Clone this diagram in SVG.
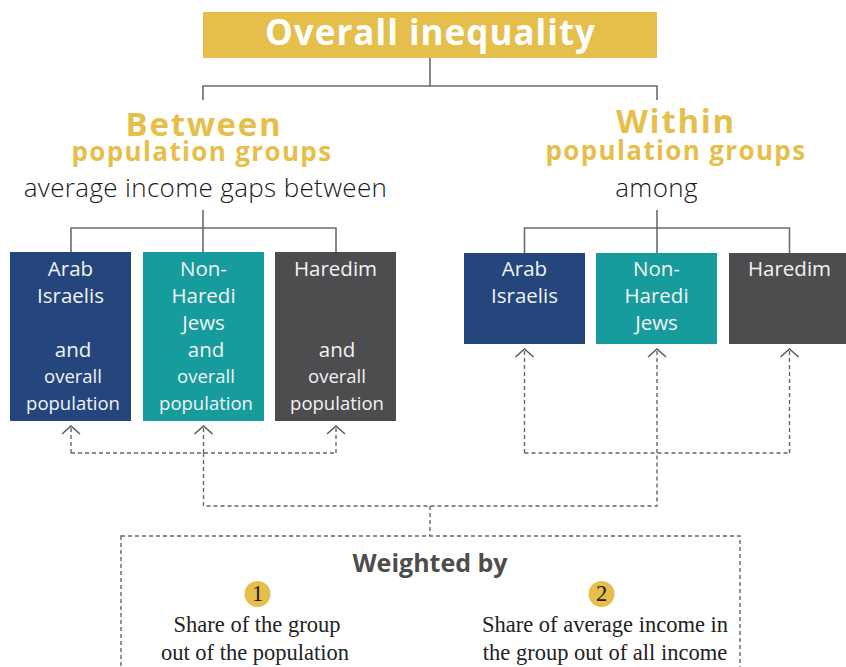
<svg xmlns="http://www.w3.org/2000/svg" width="846" height="667" viewBox="0 0 846 667">
  <style>
    .tree { fill: none; stroke: #6b6b6b; stroke-width: 1.6; }
    .dash { fill: none; stroke: #666; stroke-width: 1.4; stroke-dasharray: 4 3; }
    .head { font-family: "Open Sans", "Liberation Sans", sans-serif; font-weight: 700; fill: #e6bf4b; text-anchor: middle; }
    .big { font-size: 33px; letter-spacing: 1.7px; }
    .grp { font-size: 26px; letter-spacing: 1.35px; }
    .sub { font-family: "Open Sans", "Liberation Sans", sans-serif; font-weight: 300; fill: #1a1a1a; text-anchor: middle; font-size: 26px; letter-spacing: 0.35px; }
    .lbl { font-family: "Open Sans", "Liberation Sans", sans-serif; fill: #f2f2f2; text-anchor: middle; font-size: 20.5px; }
    .sm { font-size: 18.5px; }
    .serif { font-family: "Liberation Serif", "Times New Roman", serif; fill: #222; text-anchor: middle; font-size: 22.5px; }
    .navy { fill: #24467d; }
    .teal { fill: #169c9d; }
    .grey { fill: #4d4d4f; }
  </style>
  <defs>
    <marker id="chev" viewBox="-10 -10 20 20" markerWidth="20" markerHeight="20" refX="0" refY="0" markerUnits="userSpaceOnUse" orient="auto">
      <path d="M-8,-9 L0,0 L-8,9" fill="none" stroke="#555" stroke-width="1.4" stroke-dasharray="none"/>
    </marker>
  </defs>

  <!-- solid tree lines -->
  <g id="connectors">
    <path class="tree" d="M430,58 V86 M203,100 V86 H657 V100"/>
    <path class="tree" d="M203,210 V252 M71,252 V228 H336 V252"/>
    <path class="tree" d="M657,210 V253 M524.5,253 V228 H789.5 V253"/>
    <!-- dashed weighting links -->
    <path class="dash" d="M71,453 H336"/>
    <path class="dash" d="M71,453 V426" marker-end="url(#chev)"/>
    <path class="dash" d="M203.5,453 V426" marker-end="url(#chev)"/>
    <path class="dash" d="M336,453 V426" marker-end="url(#chev)"/>
    <path class="dash" d="M524.5,453 H789.5"/>
    <path class="dash" d="M524.5,453 V349" marker-end="url(#chev)"/>
    <path class="dash" d="M657,453 V349" marker-end="url(#chev)"/>
    <path class="dash" d="M789.5,453 V349" marker-end="url(#chev)"/>
    <path class="dash" d="M203.5,453 V506 H657 V453 M430,506 V536"/>
  </g>

  <g id="overall">
    <rect x="203" y="12" width="454" height="46" fill="#e5be4c"/>
    <text x="430.5" y="45" class="head" font-size="35" letter-spacing="1" style="fill:#fff">Overall inequality</text>
  </g>

  <g id="between">
    <text x="204" y="136" class="head big">Between</text>
    <text x="202" y="161" class="head grp">population groups</text>
    <text x="205.5" y="197" class="sub">average income gaps between</text>
  </g>

  <g id="within">
    <text x="676" y="133" class="head big">Within</text>
    <text x="676" y="160" class="head grp">population groups</text>
    <text x="656.5" y="197" class="sub">among</text>
  </g>

  <g id="between-arab">
    <rect x="10" y="252" width="121" height="169" class="navy"/>
    <text class="lbl" x="70.5" y="276">Arab</text>
    <text class="lbl" x="70.5" y="303">Israelis</text>
    <text class="lbl" x="73" y="357">and</text>
    <text class="lbl sm" x="73" y="383">overall</text>
    <text class="lbl sm" x="73" y="410">population</text>
  </g>
  <g id="between-nonharedi">
    <rect x="143" y="252" width="121" height="169" class="teal"/>
    <text class="lbl" x="203.5" y="276">Non-</text>
    <text class="lbl" x="203.5" y="303">Haredi</text>
    <text class="lbl" x="203.5" y="330">Jews</text>
    <text class="lbl" x="206" y="357">and</text>
    <text class="lbl sm" x="206" y="383">overall</text>
    <text class="lbl sm" x="206" y="410">population</text>
  </g>
  <g id="between-haredim">
    <rect x="275" y="252" width="121" height="169" class="grey"/>
    <text class="lbl" x="335.5" y="276">Haredim</text>
    <text class="lbl" x="337" y="357">and</text>
    <text class="lbl sm" x="337" y="383">overall</text>
    <text class="lbl sm" x="337" y="410">population</text>
  </g>

  <g id="within-arab">
    <rect x="464" y="253" width="121" height="91" class="navy"/>
    <text class="lbl" x="524.5" y="276">Arab</text>
    <text class="lbl" x="524.5" y="303">Israelis</text>
  </g>
  <g id="within-nonharedi">
    <rect x="596" y="253" width="121" height="91" class="teal"/>
    <text class="lbl" x="656.5" y="276">Non-</text>
    <text class="lbl" x="656.5" y="303">Haredi</text>
    <text class="lbl" x="656.5" y="330">Jews</text>
  </g>
  <g id="within-haredim">
    <rect x="729" y="253" width="121" height="91" class="grey"/>
    <text class="lbl" x="789.5" y="276">Haredim</text>
  </g>

  <g id="weighted-by">
    <rect x="121" y="536" width="619" height="160" class="dash"/>
    <text x="430" y="572" font-family="'Open Sans', 'Liberation Sans', sans-serif" font-weight="700" font-size="25" fill="#4d4d4d" text-anchor="middle">Weighted by</text>
    <circle cx="257.5" cy="594" r="13" fill="#e5be4c"/>
    <text class="serif" x="257.5" y="601" font-size="19">1</text>
    <circle cx="601.5" cy="594" r="13" fill="#e5be4c"/>
    <text class="serif" x="601.5" y="601" font-size="19">2</text>
    <text class="serif" x="257" y="632">Share of the group</text>
    <text class="serif" x="255" y="660">out of the population</text>
    <text class="serif" x="605" y="632">Share of average income in</text>
    <text class="serif" x="605" y="660">the group out of all income</text>
  </g>
</svg>
